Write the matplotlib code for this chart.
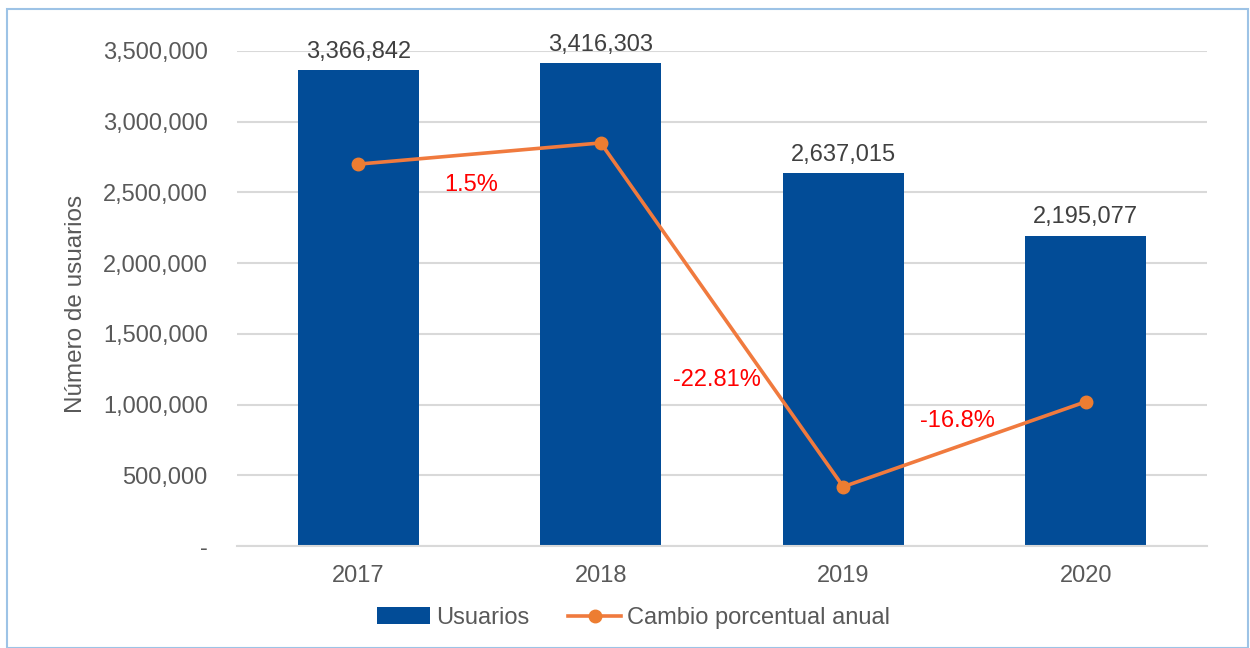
import matplotlib
matplotlib.use("Agg")
import matplotlib.pyplot as plt
from matplotlib.ticker import FuncFormatter
from matplotlib.patches import Rectangle

plt.rcParams['font.family'] = ['Liberation Sans', 'DejaVu Sans']

years = ["2017", "2018", "2019", "2020"]
usuarios = [3366842, 3416303, 2637015, 2195077]
cambio = [0.0, 1.5, -22.81, -16.8]          # % anual (eje secundario)
cambio_txt = ["1.5%", "-22.81%", "-16.8%"]

BAR = "#024C97"
LINE = "#F07A3E"
GRAY = "#595959"
GRID = "#D9D9D9"

fig = plt.figure(figsize=(12.5, 6.48), dpi=100)
ax = fig.add_axes([237 / 1250, 1 - 546 / 648, 970 / 1250, 495 / 648])

x = range(len(years))
bars = ax.bar(x, usuarios, width=0.5, color=BAR, label="Usuarios", zorder=2)
ax.set_xlim(-0.5, 3.5)
ax.set_ylim(0, 3500000)
ax.set_yticks(range(0, 3500001, 500000))
ax.yaxis.set_major_formatter(FuncFormatter(lambda v, p: "-" if v == 0 else "{:,.0f}".format(v)))
ax.set_xticks(list(x))
ax.set_xticklabels(years)
ax.grid(axis="y", color=GRID, linewidth=1.5, zorder=0)
ax.set_axisbelow(True)
for s in ["top", "right", "left"]:
    ax.spines[s].set_visible(False)
ax.spines["bottom"].set_color(GRID)
ax.spines["bottom"].set_linewidth(1.5)
ax.tick_params(axis="both", length=0, labelsize=17, labelcolor=GRAY)
ax.tick_params(axis="y", pad=21)
ax.tick_params(axis="x", pad=14)
ax.set_ylabel("Número de usuarios", fontsize=17.5, color=GRAY)
ax.yaxis.set_label_coords(-0.155, 0.49)

for i, v in enumerate(usuarios):
    ax.annotate("{:,}".format(v), (i, v), xytext=(0, 13), textcoords="offset points",
                ha="center", va="center", fontsize=17, color="#404040")

ax2 = ax.twinx()
ax2.set_ylim(-27, 8)
ax2.axis("off")
line, = ax2.plot(list(x), cambio, color=LINE, linewidth=2.6, marker="o", markersize=9,
                 markerfacecolor="#ED7D31", markeredgecolor="#ED7D31",
                 label="Cambio porcentual anual", zorder=3)

offs = [(-6, -23), (-4, -47), (-5, 17)]
for i, t in enumerate(cambio_txt):
    mx = i + 0.5
    my = (cambio[i] + cambio[i + 1]) / 2
    ax2.annotate(t, (mx, my), xytext=offs[i], textcoords="offset points",
                 ha="center", va="center", fontsize=17, color="#FF0000")

fig.legend([bars, line], ["Usuarios", "Cambio porcentual anual"], loc="center",
           bbox_to_anchor=(0.507, 1 - 618 / 648), ncol=2, frameon=False, fontsize=17,
           labelcolor=GRAY, handlelength=2.25, handletextpad=0.25, columnspacing=1.65)

fig.patches.append(Rectangle((7 / 1250, 0), 1 - 9 / 1250, 1 - 9 / 648, transform=fig.transFigure,
                             fill=False, edgecolor="#9DC3E6", linewidth=1.5))

fig.savefig("out.png", dpi=100)
